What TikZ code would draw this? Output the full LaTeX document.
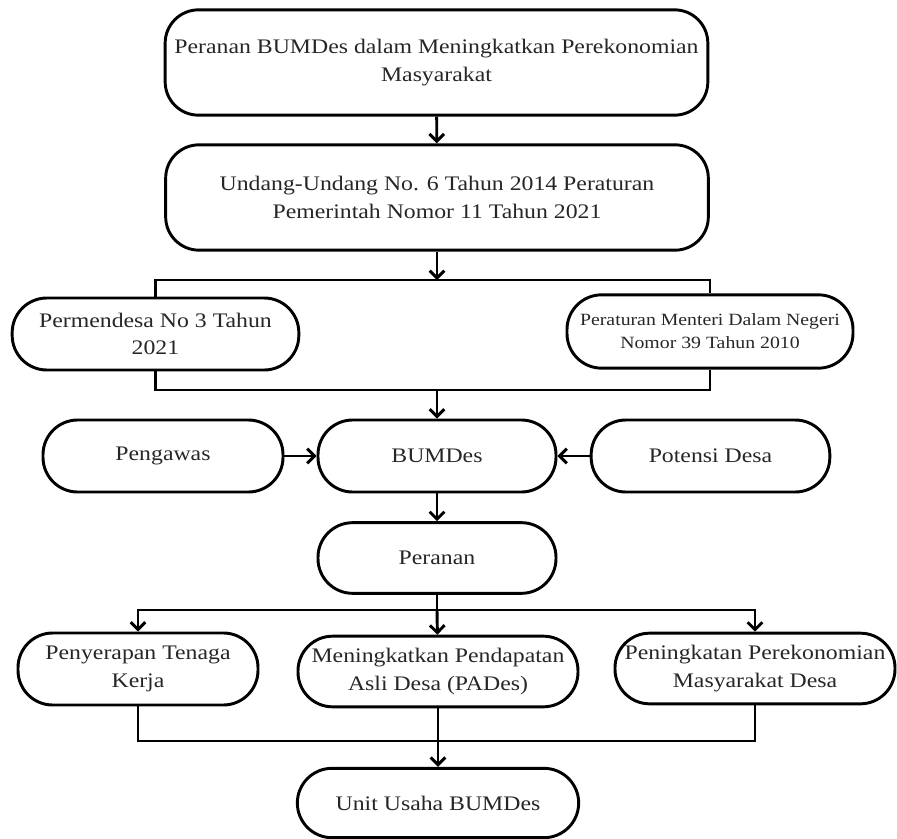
\documentclass[tikz,border=0pt]{standalone}
\usepackage{fontspec}
\setmainfont{Liberation Serif}[FakeStretch=1.15]
\usetikzlibrary{arrows.meta}

\tikzset{
  box/.style={draw, line width=2.2pt, rounded corners=26pt, align=center, inner sep=0pt,
    text=black!85, font=\fontsize{15.5}{20.5}\selectfont},
  bigbox/.style={box, rounded corners=25pt, minimum width=407pt, minimum height=79pt},
  link/.style={line width=2.2pt},
  flow/.style={link, -{Straight Barb[length=5.5pt,width=11pt]}},
}

\begin{document}
\begin{tikzpicture}[x=0.75pt, y=-0.75pt]
    \useasboundingbox (0,0) rectangle (897,839);
    % dasar hukum
    \node[bigbox] (judul) at (436.5,62.5) {Peranan BUMDes dalam Meningkatkan Perekonomian\\Masyarakat};
    \node[bigbox] (uu) at (437,197.5) {Undang-Undang No. 6 Tahun 2014 Peraturan\\Pemerintah Nomor 11 Tahun 2021};
    \node[box, minimum width=215pt, minimum height=54pt] (permendesa) at (155.5,334) {Permendesa No 3 Tahun\\2021};
    \node[box, minimum width=214.5pt, minimum height=55pt, font=\fontsize{12.9}{17.3}\selectfont] (permendagri) at (710,331.5) {Peraturan Menteri Dalam Negeri\\Nomor 39 Tahun 2010};
    % BUMDes
    \node[box, minimum width=180pt, minimum height=54pt] (pengawas) at (163,456) {Pengawas};
    \node[box, minimum width=178.5pt, minimum height=54pt] (bumdes) at (437,456) {BUMDes};
    \node[box, minimum width=179pt, minimum height=54pt] (potensi) at (710.5,456) {Potensi Desa};
    \node[box, minimum width=178.5pt, minimum height=53pt] (peranan) at (437,558) {Peranan};
    % peranan
    \node[box, minimum width=180pt, minimum height=54pt] (serap) at (138,669) {Penyerapan Tenaga\\Kerja};
    \node[box, minimum width=210pt, minimum height=53pt] (pades) at (438,671.5) {Meningkatkan Pendapatan\\Asli Desa (PADes)};
    \node[box, minimum width=210pt, minimum height=53pt] (ekonomi) at (755,668.5) {Peningkatan Perekonomian\\Masyarakat Desa};
    \node[box, minimum width=211pt, minimum height=52pt] (unit) at (438,803) {Unit Usaha BUMDes};

    \coordinate (cabang1) at (437,280);
    \coordinate (gabung1) at (437,390);
    \coordinate (cabang2) at (437,610);
    \coordinate (gabung2) at (438,741);

    \draw[flow] (judul) -- (uu);
    \draw[flow] (uu) -- (cabang1);
    \draw[link] (permendesa.north) |- (cabang1) -| (permendagri.north);
    \draw[link] (permendesa.south) |- (gabung1) -| (permendagri.south);
    \draw[flow] (gabung1) -- (bumdes);
    \draw[flow] (pengawas) -- (bumdes);
    \draw[flow] (potensi) -- (bumdes);
    \draw[flow] (bumdes) -- (peranan);
    \draw[link] (peranan) -- (cabang2);
    \draw[flow] (cabang2) -| (serap.north);
    \draw[flow] (cabang2) -- (pades);
    \draw[flow] (cabang2) -| (ekonomi.north);
    \draw[link] (serap.south) |- (gabung2) -| (ekonomi.south);
    \draw[flow] (pades) -- (unit);
\end{tikzpicture}
\end{document}
